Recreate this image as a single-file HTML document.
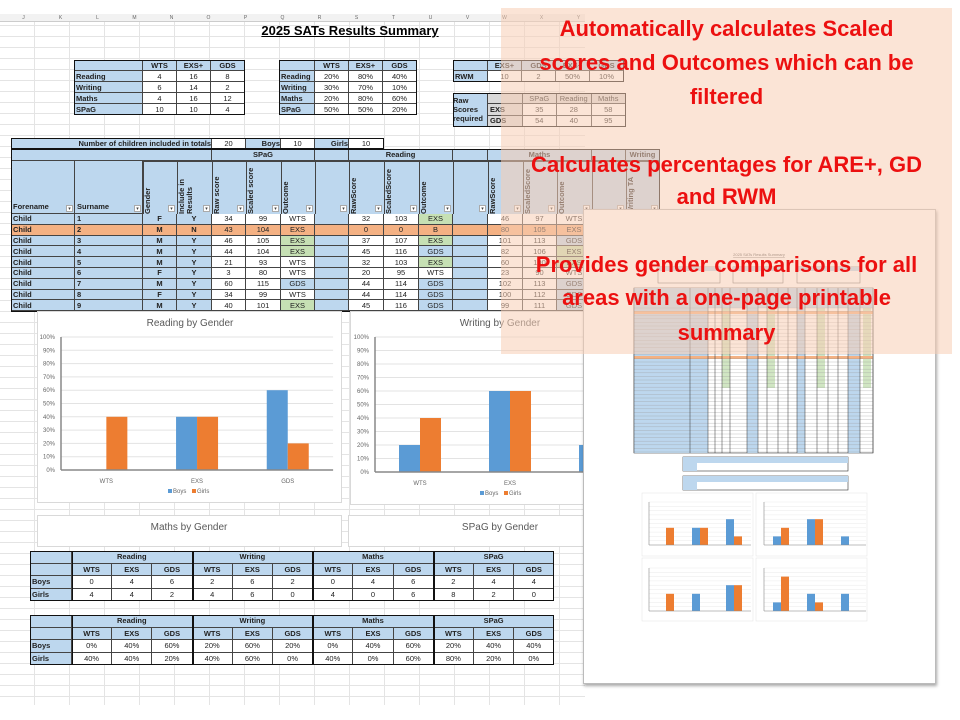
<!DOCTYPE html>
<html><head><meta charset="utf-8">
<style>
*{box-sizing:border-box;margin:0;padding:0}
body{width:960px;height:720px;background:#fff;position:relative;overflow:hidden;font-family:"Liberation Sans",sans-serif}
#sheet{position:absolute;left:0;top:15px;width:585px;height:690px;
background-color:#fff;
background-image:repeating-linear-gradient(to bottom,transparent 0,transparent 10px,#e4e4e4 10px,#e4e4e4 11px),
repeating-linear-gradient(to right,transparent 0,transparent 34px,#e4e4e4 34px,#e4e4e4 35px);z-index:1}
.c{position:absolute;font-size:7.5px;color:#222;display:flex;align-items:center;justify-content:center;border-right:1px solid #444;border-bottom:1px solid #444;white-space:nowrap;overflow:hidden;z-index:4}
.l{justify-content:flex-start;padding-left:2px;font-weight:bold}
.b{font-weight:bold}
.v{writing-mode:vertical-rl;transform:rotate(180deg);align-items:flex-start;justify-content:flex-start;padding-bottom:0}
.panel{position:absolute;background:#fff;border:1px solid #d9d9d9;z-index:3}
svg text{font-family:"Liberation Sans",sans-serif}
#page{position:absolute;left:583px;top:209px;width:353px;height:475px;background:#fff;border:1px solid #bbb;box-shadow:1px 2px 3px rgba(0,0,0,.35);z-index:5}
#peach{position:absolute;left:501px;top:8px;width:451px;height:346px;background:rgba(248,205,180,.55);z-index:6}
.msg{position:absolute;left:501px;width:451px;text-align:center;color:#ec1010;font-weight:bold;font-size:22px;line-height:24px;z-index:7;white-space:nowrap}
</style></head>
<body>
<div id="sheet"></div>
<div id="colhdr" style="position:absolute;left:0;top:14px;width:585px;height:8px;background:#f2f2f2;border-bottom:1px solid #ccc;z-index:2"></div>
<div style="position:absolute;left:200px;top:23px;width:300px;text-align:center;font-weight:bold;font-size:13px;text-decoration:underline;z-index:2">2025 SATs Results Summary</div>
<div id="cells"></div>

<div id="page"></div>
<svg id="pageSvg" width="960" height="720" style="position:absolute;left:0;top:0;z-index:5;pointer-events:none"></svg>

<div id="peach"></div>
<div class="msg" style="top:17px">Automatically calculates Scaled</div>
<div class="msg" style="top:51px">scores and Outcomes which can be</div>
<div class="msg" style="top:85px">filtered</div>
<div class="msg" style="top:153px">Calculates percentages for ARE+, GD</div>
<div class="msg" style="top:185px">and RWM</div>
<div class="msg" style="top:253px">Provides gender comparisons for all</div>
<div class="msg" style="top:286px">areas with a one-page printable</div>
<div class="msg" style="top:321px">summary</div>

<script>
// ---- chart data ----
const categories = ["WTS","EXS","GDS"];
const readingBoys = [0,40,60];
const readingGirls = [40,40,20];
const writingBoys = [20,60,20];
const writingGirls = [40,60,0];
const mathsBoys = [0,40,60];
const mathsGirls = [40,0,60];
const spagBoys = [20,40,40];
const spagGirls = [80,20,0];
const yTicks = [0,10,20,30,40,50,60,70,80,90,100];

const BLUE="#bdd7ee", GREEN="#c6e0b4", ORANGE="#f4b183";
const cellsRoot=document.getElementById('cells');
function cell(x,y,w,h,txt,bg,cls,name){
  const d=document.createElement('div');
  d.className='c '+(cls||'');
  d.style.left=x+'px';d.style.top=y+'px';d.style.width=w+'px';d.style.height=h+'px';
  if(bg) d.style.background=bg;
  d.textContent=txt;
  
  
  cellsRoot.appendChild(d);
  return d;
}
function box(x,y,w,h,name){
  const d=document.createElement('div');
  d.style.cssText='position:absolute;border:1.5px solid #111;z-index:4;pointer-events:none;left:'+x+'px;top:'+y+'px;width:'+w+'px;height:'+h+'px';
  
  
  cellsRoot.appendChild(d);
}
const letters="J K L M N O P Q R S T U V W X Y".split(" ");
letters.forEach((t,i)=>{const d=cell(i*37+5,14,37,8,t,null,'', 'column-letter');d.style.border='none';d.style.fontSize='5px';d.style.color='#666';});

function smallTable(x0,y0,cols,rows,colW,lw,name){
  cols.forEach((t,i)=>cell(x0+(i===0?0:lw+(i-1)*colW),y0,i===0?lw:colW,11,t,BLUE,'b',name+'-header'));
  rows.forEach((r,j)=>r.forEach((t,i)=>cell(x0+(i===0?0:lw+(i-1)*colW),y0+11*(j+1),i===0?lw:colW,11,t,i===0?BLUE:'#fff',i===0?'l':'',name+'-cell')));
  box(x0,y0,lw+colW*(cols.length-1),11*(rows.length+1),name);
}
smallTable(74,60,["","WTS","EXS+","GDS"],[["Reading","4","16","8"],["Writing","6","14","2"],["Maths","4","16","12"],["SPaG","10","10","4"]],34,69,'count-table');
smallTable(279,60,["","WTS","EXS+","GDS"],[["Reading","20%","80%","40%"],["Writing","30%","70%","10%"],["Maths","20%","80%","60%"],["SPaG","50%","50%","20%"]],34,36,'percent-table');
smallTable(453,60,["","EXS+","GDS","EXS+","GDS"],[["RWM","10","2","50%","10%"]],34,35,'rwm-table');
cell(453,93,35,34,"Raw Scores required",BLUE,'b','raw-scores-label').style.whiteSpace='normal';
[["","SPaG","Reading","Maths"],["EXS","35","28","58"],["GDS","54","40","95"]].forEach((r,j)=>r.forEach((t,i)=>cell(488+i*34.5,93+j*11.3,34.5,11.3,t,(j===0||i===0)?'#d9d9d9':'#fff',i===0?'l':'','raw-scores-cell')));
box(453,93,173,34,'raw-scores-table');

const cx=[11,75,143,177,212,246,281,315,349,384,419,453,488,523,557,592,626,660];
cell(11,138,201,11,"Number of children included in totals",BLUE,'b','children-count-label').style.justifyContent='flex-end';
cell(212,138,34,11,"20",'#fff','','children-count');
cell(246,138,35,11,"Boys",BLUE,'b','boys-label').style.justifyContent='flex-end';
cell(281,138,34,11,"10",'#fff','','boys-count');
cell(315,138,34,11,"Girls",BLUE,'b','girls-label').style.justifyContent='flex-end';
cell(349,138,35,11,"10",'#fff','','girls-count');
box(11,138,373,11,'children-count-row');
const groups=[[0,4,""],[4,7,"SPaG"],[7,8,""],[8,11,"Reading"],[11,12,""],[12,15,"Maths"],[15,16,""],[16,17,"Writing"]];
groups.forEach(g=>{cell(cx[g[0]],149,cx[g[1]]-cx[g[0]],12,g[2],BLUE,'b','group-header');});
const heads=["Forename","Surname","Gender","Include in Results","Raw score","Scaled score","Outcome","","RawScore","ScaledScore","Outcome","","RawScore","ScaledScore","Outcome","","Writing TA"];
heads.forEach((t,i)=>{
  const d=cell(cx[i],161,cx[i+1]-cx[i],53,t,BLUE,'b','column-header');
  if(i<2){d.style.alignItems='flex-end';d.style.justifyContent='flex-start';d.style.paddingLeft='2px';d.style.paddingBottom='2px';}
  else{d.classList.add('v');d.style.whiteSpace='normal';d.style.lineHeight='8px';d.style.paddingTop='0';d.style.paddingLeft='10px';}
  const dd=document.createElement('div');
  dd.style.cssText='position:absolute;z-index:4;width:7px;height:7px;background:#fff;border:1px solid #aaa;font-size:5px;line-height:6px;text-align:center;color:#444;left:'+(cx[i+1]-9)+'px;top:205px';
  dd.textContent='▾';
  
  
  cellsRoot.appendChild(dd);
});
const rows=[
["Child","1","F","Y","34","99","WTS","","32","103","EXS","","46","97","WTS","",""],
["Child","2","M","N","43","104","EXS","","0","0","B","","80","105","EXS","",""],
["Child","3","M","Y","46","105","EXS","","37","107","EXS","","101","113","GDS","",""],
["Child","4","M","Y","44","104","EXS","","45","116","GDS","","82","106","EXS","",""],
["Child","5","M","Y","21","93","WTS","","32","103","EXS","","60","100","EXS","",""],
["Child","6","F","Y","3","80","WTS","","20","95","WTS","","23","90","WTS","",""],
["Child","7","M","Y","60","115","GDS","","44","114","GDS","","102","113","GDS","",""],
["Child","8","F","Y","34","99","WTS","","44","114","GDS","","100","112","GDS","",""],
["Child","9","M","Y","40","101","EXS","","45","116","GDS","","99","111","GDS","",""]];
rows.forEach((r,j)=>{
  const y=214+j*10.8;
  r.forEach((t,i)=>{
    let bg='#fff';
    if(i<4||i===7||i===11||i===15) bg=BLUE;
    if(i===6||i===10||i===14){ if(t==='EXS') bg=GREEN; if(t==='GDS') bg=BLUE; }
    if(j===0&&i===6) bg='#fff';
    if(j===1) bg=ORANGE;
    cell(cx[i],y,cx[i+1]-cx[i],10.8,t,bg,i<2?'l':(i<4?'b':''),'pupil-row-cell');
  });
});
box(11,149,649,163,'pupil-table');

function panel(x,y,w,h,name){const d=document.createElement('div');d.className='panel';d.style.left=x+'px';d.style.top=y+'px';d.style.width=w+'px';d.style.height=h+'px';cellsRoot.appendChild(d);return d;}
panel(37,311,305,192,'reading-chart-panel').style.zIndex=5;
panel(350,311,240,194,'writing-chart-panel').style.zIndex=5;
panel(37,515,305,32,'maths-chart-panel');
panel(348,515,240,32,'spag-chart-panel');

function genderTable(y0,boys,girls,name){
  const subj=["Reading","Writing","Maths","SPaG"];
  const x0=30,lw=42,cw=40.2,h=12.5;
  cell(x0,y0,lw,h,"",BLUE,'',name+'-corner');
  subj.forEach((s,k)=>cell(x0+lw+k*3*cw,y0,3*cw,h,s,BLUE,'b',name+'-subject-header'));
  cell(x0,y0+h,lw,h,"",BLUE,'',name+'-corner');
  for(let k=0;k<12;k++) cell(x0+lw+k*cw,y0+h,cw,h,categories[k%3],BLUE,'b',name+'-level-header');
  cell(x0,y0+2*h,lw,h,"Boys",BLUE,'l',name+'-boys-label');
  cell(x0,y0+3*h,lw,h,"Girls",BLUE,'l',name+'-girls-label');
  boys.forEach((v,k)=>cell(x0+lw+k*cw,y0+2*h,cw,h,v,'#fff','',name+'-boys-value'));
  girls.forEach((v,k)=>cell(x0+lw+k*cw,y0+3*h,cw,h,v,'#fff','',name+'-girls-value'));
  for(let k=0;k<4;k++) box(x0+lw+k*3*cw,y0,3*cw,4*h,name+'-subject-block');
  box(x0,y0,lw+12*cw,4*h,name);
}
const allBoys=[...readingBoys,...writingBoys,...mathsBoys,...spagBoys];
const allGirls=[...readingGirls,...writingGirls,...mathsGirls,...spagGirls];
genderTable(551,allBoys.map(v=>String(v/10)),allGirls.map(v=>String(v/10)),'count-by-gender-table');
genderTable(615,allBoys.map(v=>v+'%'),allGirls.map(v=>v+'%'),'percent-by-gender-table');

const NS="http://www.w3.org/2000/svg";
// sheet chart svg, created after panels so it sits on top of them
const S=document.createElementNS(NS,'svg');
S.setAttribute('width','960');S.setAttribute('height','720');
S.style.cssText='position:absolute;left:0;top:0;z-index:5;pointer-events:none';


cellsRoot.appendChild(S);

function el(svg,tag,attrs,txt){const e=document.createElementNS(NS,tag);for(const k in attrs)e.setAttribute(k,attrs[k]);if(txt!==undefined)e.textContent=txt;svg.appendChild(e);return e;}
function barChart(svg,o,boys,girls,title,key){
  const ys=v=>o.y0-v/100*o.ph;
  const xc=i=>o.ax+o.cw*(i+0.5);
  const right=o.ax+o.cw*categories.length;
  yTicks.forEach(t=>{
    const g=el(svg,'line',{x1:o.ax,x2:right,y1:ys(t),y2:ys(t),stroke:'#e3e3e3','stroke-width':o.sw});
    
    if(o.labels){const tl=el(svg,'text',{x:o.ax-6,y:ys(t)+2,'font-size':o.fs,'text-anchor':'end',fill:'#666'},t+'%');}
  });
  boys.forEach((v,i)=>{const r=el(svg,'rect',{x:xc(i)-o.bw,y:ys(v),width:o.bw,height:o.y0-ys(v),fill:'#5b9bd5'});});
  girls.forEach((v,i)=>{const r=el(svg,'rect',{x:xc(i),y:ys(v),width:o.bw,height:o.y0-ys(v),fill:'#ed7d31'});});
  const ax=el(svg,'line',{x1:o.ax,x2:right,y1:o.y0,y2:o.y0,stroke:'#888','stroke-width':o.sw*1.5});
  
  const ay=el(svg,'line',{x1:o.ax,x2:o.ax,y1:o.y0,y2:ys(100),stroke:'#888','stroke-width':o.sw*1.5});
  
  if(o.labels){
    categories.forEach((c,i)=>{const t=el(svg,'text',{x:xc(i),y:o.y0+13,'font-size':o.fs,'text-anchor':'middle',fill:'#666'},c);});
    const lx=o.legendX;
    const l1=el(svg,'rect',{x:lx-22,y:o.y0+19,width:4,height:4,fill:'#5b9bd5'});
    const l2=el(svg,'text',{x:lx-17,y:o.y0+23,'font-size':o.fs,fill:'#666'},'Boys');
    const l3=el(svg,'rect',{x:lx+2,y:o.y0+19,width:4,height:4,fill:'#ed7d31'});
    const l4=el(svg,'text',{x:lx+7,y:o.y0+23,'font-size':o.fs,fill:'#666'},'Girls');
  }
  if(title){const tt=el(svg,'text',{x:o.tx,y:o.ty,'font-size':o.tfs,'text-anchor':'middle',fill:'#595959'},title);}
}
barChart(S,{ax:61,y0:470,ph:133,cw:90.7,bw:21,fs:6,sw:1,labels:true,legendX:190,tx:190,ty:326,tfs:10},readingBoys,readingGirls,'Reading by Gender','reading');
el(S,'defs',{}).innerHTML='<clipPath id="wc"><rect x="350" y="300" width="233" height="220"/></clipPath>';
const wg=el(S,'g',{'clip-path':'url(#wc)'});
barChart(wg,{ax:375,y0:472,ph:135,cw:90,bw:21,fs:6,sw:1,labels:true,legendX:502,tx:500,ty:326,tfs:10},writingBoys,writingGirls,'Writing by Gender','writing');
const mt=el(S,'text',{x:189,y:530,'font-size':10,'text-anchor':'middle',fill:'#595959'},'Maths by Gender');
const st=el(S,'text',{x:500,y:530,'font-size':10,'text-anchor':'middle',fill:'#595959'},'SPaG by Gender');

const P=document.getElementById('pageSvg');
const pt=el(P,'text',{x:759,y:256,'font-size':4,'text-anchor':'middle',fill:'#555','text-decoration':'underline'},'2025 SATs Results Summary');
[[658,62],[733,50],[797,63]].forEach(b=>{const r=el(P,'rect',{x:b[0],y:267,width:b[1],height:16,fill:'#fff',stroke:'#666','stroke-width':.6});
  const h=el(P,'rect',{x:b[0],y:267,width:b[1],height:4,fill:BLUE});});
const ms=el(P,'rect',{x:634,y:288,width:239,height:165,fill:'#fff',stroke:'#444','stroke-width':.6});
const mb=el(P,'rect',{x:634,y:288,width:74,height:165,fill:BLUE});
const mh=el(P,'rect',{x:634,y:288,width:239,height:20,fill:BLUE});
[[747,11],[797,8],[848,12]].forEach(s=>{const r=el(P,'rect',{x:s[0],y:288,width:s[1],height:165,fill:BLUE});});
[[722,8],[767,8],[817,8],[863,8]].forEach(s=>{const r=el(P,'rect',{x:s[0],y:308,width:s[1],height:80,fill:GREEN,opacity:.8});});
[311,356].forEach(y=>{const r=el(P,'rect',{x:634,y:y,width:239,height:3,fill:ORANGE});});
for(let y=308;y<453;y+=3.6){const l=el(P,'line',{x1:634,x2:873,y1:y,y2:y,stroke:'#999','stroke-width':.3});}
[634,690,708,715,722,730,747,758,767,778,788,797,805,817,828,838,848,860,873].forEach(x=>{const l=el(P,'line',{x1:x,x2:x,y1:288,y2:453,stroke:'#333','stroke-width':.5});});
[457,476].forEach(y=>{const r=el(P,'rect',{x:683,y:y,width:165,height:14,fill:'#fff',stroke:'#333','stroke-width':.6});
  const h=el(P,'rect',{x:683,y:y,width:165,height:6,fill:BLUE});
  const s=el(P,'rect',{x:683,y:y,width:14,height:14,fill:BLUE});});
[[642,493],[756,493],[642,558],[756,558]].forEach(p=>{const r=el(P,'rect',{x:p[0],y:p[1],width:111,height:63,fill:'#fff',stroke:'#e6e6e6','stroke-width':.6});});
barChart(P,{ax:649,y0:545,ph:43,cw:34,bw:8,fs:3,sw:.4,labels:false},readingBoys,readingGirls,null,'mini-reading');
barChart(P,{ax:764,y0:545,ph:43,cw:34,bw:8,fs:3,sw:.4,labels:false},writingBoys,writingGirls,null,'mini-writing');
barChart(P,{ax:649,y0:611,ph:43,cw:34,bw:8,fs:3,sw:.4,labels:false},mathsBoys,mathsGirls,null,'mini-maths');
barChart(P,{ax:764,y0:611,ph:43,cw:34,bw:8,fs:3,sw:.4,labels:false},spagBoys,spagGirls,null,'mini-spag');
</script>
</body></html>
